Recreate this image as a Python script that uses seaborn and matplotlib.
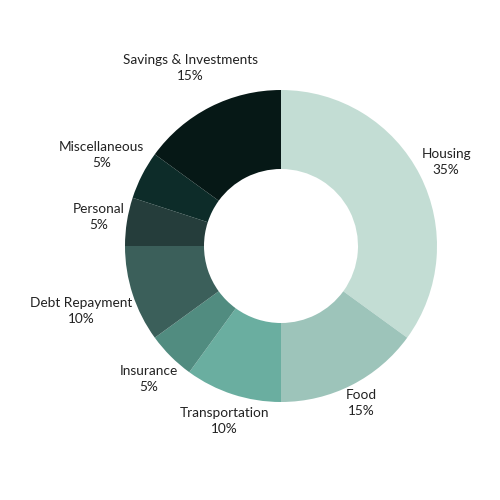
import matplotlib
matplotlib.use("Agg")
import matplotlib.pyplot as plt
import seaborn as sns
import numpy as np

# budget split
categories = ["Housing", "Food", "Transportation", "Insurance",
              "Debt Repayment", "Personal", "Miscellaneous", "Savings & Investments"]
shares = [35, 15, 10, 5, 10, 5, 5, 15]
colors = ["#c3ddd4", "#9dc4ba", "#6aaea0", "#518c80",
          "#3b5f5a", "#253d3b", "#0d2c29", "#061816"]

sns.set_theme(style="white")
plt.rcParams['font.family'] = ['Lato', 'DejaVu Sans']

fig = plt.figure(figsize=(5, 5), dpi=100)
ax = fig.add_axes([0, 0, 1, 1])

R = 156
wedges, _ = ax.pie(shares, colors=colors, startangle=90, counterclock=False,
                   radius=R, wedgeprops=dict(width=R - 77, linewidth=0))
ax.set_xlim(-281, 500 - 281)
ax.set_ylim(-(500 - 246), 246)
ax.set_aspect('equal')
ax.axis('off')

# labels sit on the mid-angle ray, pushed out until the box clears a circle
fig.canvas.draw()
renderer = fig.canvas.get_renderer()
gap = 157
for w, cat, v in zip(wedges, categories, shares):
    ang = np.deg2rad((w.theta1 + w.theta2) / 2)
    ux, uy = np.cos(ang), np.sin(ang)
    t = ax.text(0, 0, f"{cat}\n{v}%", ha='center', va='center',
                fontsize=9.8, color='#222222', linespacing=1.4)
    bb = t.get_window_extent(renderer)
    d = gap + bb.width / 2 * abs(ux) + bb.height / 2 * abs(uy)
    t.set_position((d * ux, d * uy))

fig.savefig("out.png", dpi=100)
